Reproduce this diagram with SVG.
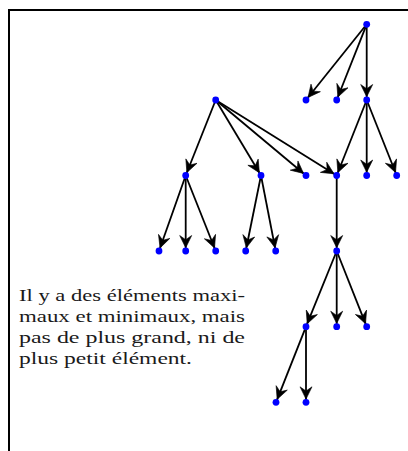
<svg xmlns="http://www.w3.org/2000/svg" width="408" height="451" viewBox="0 0 408 451">
<style>
.frame{fill:none;stroke:#000;stroke-width:2}
.e{fill:none;stroke:#000;stroke-width:1.8;marker-end:url(#ah)}
.n{fill:#0000ff}
.t{font-family:"Liberation Serif","Times New Roman",serif;font-size:17px;fill:#1a1a1a}
</style>
<defs>
<marker id="ah" markerUnits="userSpaceOnUse" orient="auto" viewBox="-17 -7 18 14" refX="0" refY="0" markerWidth="18" markerHeight="14">
<path d="M-3.2,0 L-15.5,-6 L-11.3,0 L-15.5,6 Z" fill="#000" stroke="#000" stroke-width="0.6" stroke-linejoin="miter"/>
</marker>
</defs>
<path class="frame" d="M9,451 V10 H408"/>
<g id="connectors">
<line class="e" x1="366.7" y1="24.3" x2="306" y2="100"/>
<line class="e" x1="366.7" y1="24.3" x2="336.7" y2="100"/>
<line class="e" x1="366.7" y1="24.3" x2="366.7" y2="100"/>
<line class="e" x1="366.7" y1="100" x2="336.7" y2="175.5"/>
<line class="e" x1="366.7" y1="100" x2="366.7" y2="175.5"/>
<line class="e" x1="366.7" y1="100" x2="396.7" y2="175.5"/>
<line class="e" x1="215.7" y1="100" x2="185.7" y2="175.5"/>
<line class="e" x1="215.7" y1="100" x2="261" y2="175.5"/>
<line class="e" x1="215.7" y1="100" x2="306" y2="175.5"/>
<line class="e" x1="215.7" y1="100" x2="336.7" y2="175.5"/>
<line class="e" x1="185.7" y1="175.5" x2="159" y2="251"/>
<line class="e" x1="185.7" y1="175.5" x2="185.7" y2="251"/>
<line class="e" x1="185.7" y1="175.5" x2="215.7" y2="251"/>
<line class="e" x1="261" y1="175.5" x2="245.7" y2="251"/>
<line class="e" x1="261" y1="175.5" x2="275.7" y2="251"/>
<line class="e" x1="336.7" y1="175.5" x2="336.7" y2="251"/>
<line class="e" x1="336.7" y1="251" x2="306" y2="326.7"/>
<line class="e" x1="336.7" y1="251" x2="336.7" y2="326.7"/>
<line class="e" x1="336.7" y1="251" x2="366.7" y2="326.7"/>
<line class="e" x1="306" y1="326.7" x2="276" y2="402.3"/>
<line class="e" x1="306" y1="326.7" x2="306" y2="402.3"/>
</g>
<g id="n-top"><circle class="n" cx="366.7" cy="24.3" r="3.4"/></g>
<g id="n-a1"><circle class="n" cx="306" cy="100" r="3.4"/></g>
<g id="n-a2"><circle class="n" cx="336.7" cy="100" r="3.4"/></g>
<g id="n-a3"><circle class="n" cx="366.7" cy="100" r="3.4"/></g>
<g id="n-b"><circle class="n" cx="215.7" cy="100" r="3.4"/></g>
<g id="n-c1"><circle class="n" cx="185.7" cy="175.5" r="3.4"/></g>
<g id="n-c2"><circle class="n" cx="261" cy="175.5" r="3.4"/></g>
<g id="n-c3"><circle class="n" cx="306" cy="175.5" r="3.4"/></g>
<g id="n-c4"><circle class="n" cx="336.7" cy="175.5" r="3.4"/></g>
<g id="n-c5"><circle class="n" cx="366.7" cy="175.5" r="3.4"/></g>
<g id="n-c6"><circle class="n" cx="396.7" cy="175.5" r="3.4"/></g>
<g id="n-d1"><circle class="n" cx="159" cy="251" r="3.4"/></g>
<g id="n-d2"><circle class="n" cx="185.7" cy="251" r="3.4"/></g>
<g id="n-d3"><circle class="n" cx="215.7" cy="251" r="3.4"/></g>
<g id="n-d4"><circle class="n" cx="245.7" cy="251" r="3.4"/></g>
<g id="n-d5"><circle class="n" cx="275.7" cy="251" r="3.4"/></g>
<g id="n-d6"><circle class="n" cx="336.7" cy="251" r="3.4"/></g>
<g id="n-e1"><circle class="n" cx="306" cy="326.7" r="3.4"/></g>
<g id="n-e2"><circle class="n" cx="336.7" cy="326.7" r="3.4"/></g>
<g id="n-e3"><circle class="n" cx="366.7" cy="326.7" r="3.4"/></g>
<g id="n-f1"><circle class="n" cx="276" cy="402.3" r="3.4"/></g>
<g id="n-f2"><circle class="n" cx="306" cy="402.3" r="3.4"/></g>
<g id="caption">
<text class="t" x="19" y="301" textLength="226" lengthAdjust="spacingAndGlyphs">Il y a des éléments maxi-</text>
<text class="t" x="19" y="322" textLength="226" lengthAdjust="spacingAndGlyphs">maux et minimaux, mais</text>
<text class="t" x="19" y="343" textLength="226" lengthAdjust="spacingAndGlyphs">pas de plus grand, ni de</text>
<text class="t" x="19" y="364" textLength="173" lengthAdjust="spacingAndGlyphs">plus petit élément.</text>
</g>
</svg>
